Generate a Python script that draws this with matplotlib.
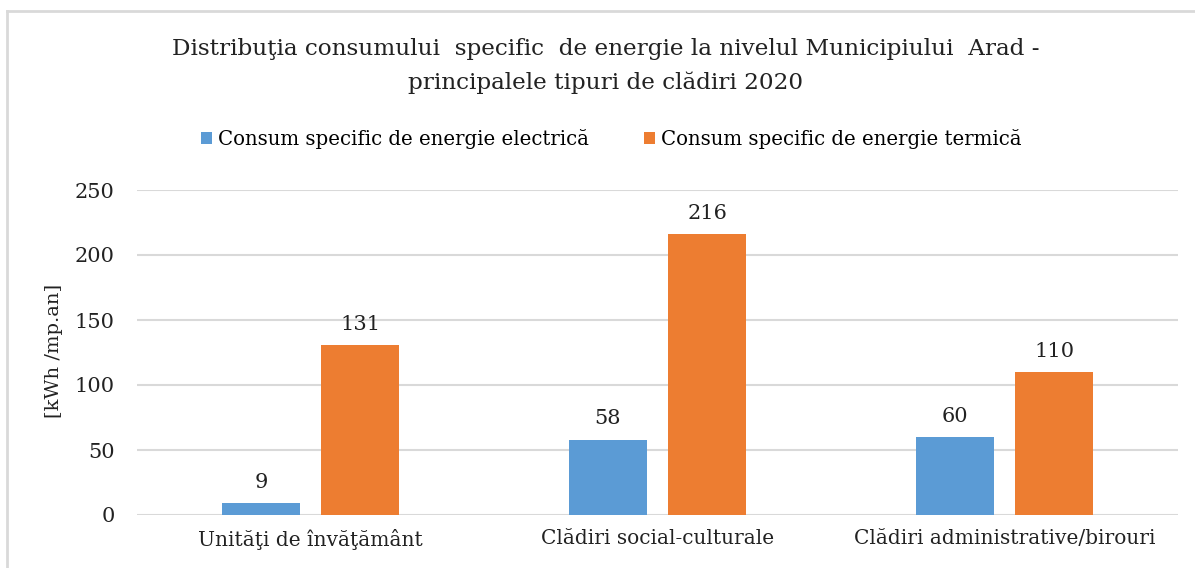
import numpy as np
import matplotlib.pyplot as plt
from matplotlib.lines import Line2D

categories = ['Unităţi de învăţământ', 'Clădiri social-culturale',
              'Clădiri administrative/birouri']
electrica = [9, 58, 60]
termica = [131, 216, 110]
series_names = ['Consum specific de energie electrică',
                'Consum specific de energie termică']

plt.rcParams['font.family'] = ['DejaVu Serif']

W, H = 1195, 568
fig = plt.figure(figsize=(W / 100, H / 100), dpi=100)

# chart frame: only top and left edges are visible in the reference
fig.lines.append(Line2D([7 / W, 1.05], [1 - 11 / H, 1 - 11 / H],
                        transform=fig.transFigure, color='#d9d9d9', lw=2))
fig.lines.append(Line2D([7 / W, 7 / W], [1 - 11 / H, -0.05],
                        transform=fig.transFigure, color='#d9d9d9', lw=2))

ax = fig.add_axes([137 / W, 1 - 515 / H, (1178 - 137) / W, (515 - 190) / H])

index = np.arange(len(categories))
bar_width = 0.223
offset = 0.143

b1 = ax.bar(index - offset, electrica, bar_width, color='#5B9BD5',
            label=series_names[0], zorder=3)
b2 = ax.bar(index + offset, termica, bar_width, color='#ED7D31',
            label=series_names[1], zorder=3)

for rects, vals in ((b1, electrica), (b2, termica)):
    for r, v in zip(rects, vals):
        ax.annotate(str(v), (r.get_x() + r.get_width() / 2, v),
                    xytext=(0, 8), textcoords='offset points',
                    ha='center', va='bottom', fontsize=15, color='#222222')

ax.set_xlim(-0.5, 2.5)
ax.set_ylim(0, 250)
ax.set_yticks(range(0, 251, 50))
ax.set_xticks(index)
ax.set_xticklabels(categories)
ax.tick_params(axis='both', length=0, labelcolor='#222222')
ax.tick_params(axis='x', pad=10, labelsize=14.5)
ax.tick_params(axis='y', pad=16, labelsize=15)
ax.grid(axis='y', color='#d9d9d9', linewidth=1.5, zorder=0)
for s in ax.spines.values():
    s.set_visible(False)

fig.text(54 / W, 1 - 351 / H, '[kWh /mp.an]', rotation=90, ha='center',
         va='center', fontsize=14, color='#222222')

fig.text(606 / W, 1 - 66 / H,
         'Distribuţia consumului  specific  de energie la nivelul Municipiului  Arad -\n'
         'principalele tipuri de clădiri 2020',
         ha='center', va='center', fontsize=16.7, color='#222222',
         linespacing=1.65)

fig.legend(handles=[b1, b2], loc='center', bbox_to_anchor=(611 / W, 1 - 139 / H),
           ncol=2, frameon=False, fontsize=14.2, handlelength=0.55,
           handleheight=0.55, handletextpad=0.3, columnspacing=2.8)

plt.savefig('out.png', dpi=100)
